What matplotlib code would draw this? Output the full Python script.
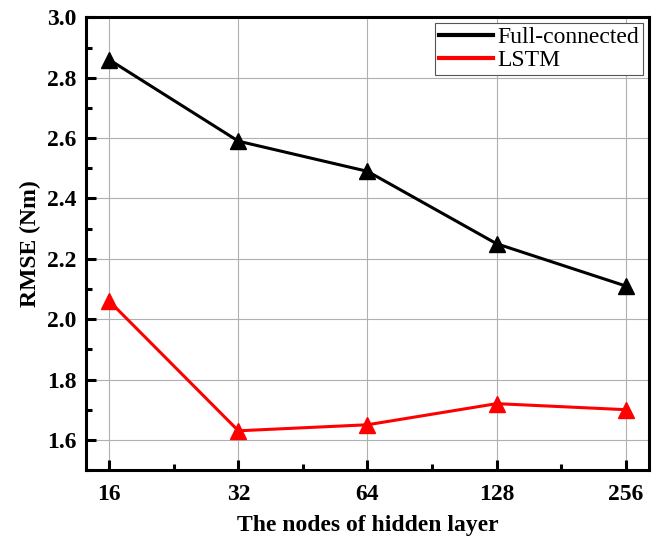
import numpy as np
import matplotlib
matplotlib.use("Agg")
import matplotlib.pyplot as plt
from matplotlib.ticker import MultipleLocator

plt.rcParams['font.family'] = ['Liberation Serif', 'DejaVu Serif']

nodes = ['16', '32', '64', '128', '256']
full_connected = [2.86, 2.59, 2.49, 2.25, 2.11]
lstm = [2.06, 1.63, 1.65, 1.72, 1.70]

x = np.arange(len(nodes))

fig = plt.figure(figsize=(6.59, 5.36), dpi=100)
ax = fig.add_axes([0.1305, 0.1231, 0.9848 - 0.1305, 0.9674 - 0.1231])

ax.plot(x, full_connected, '-^', color='black', lw=2.2, ms=11, label='Full-connected', zorder=3)
ax.plot(x, lstm, '-^', color='red', lw=2.2, ms=11, label='LSTM', zorder=3)

ax.set_xlim(-0.18, 4.18)
ax.set_ylim(1.5, 3.0)
ax.set_xticks(x)
ax.set_xticklabels(nodes)
ax.xaxis.set_minor_locator(MultipleLocator(0.5))
ax.yaxis.set_major_locator(MultipleLocator(0.2))
ax.yaxis.set_minor_locator(MultipleLocator(0.1))

ax.grid(True, which='major', color='#b0b0b0', lw=0.8)
ax.set_axisbelow(True)

for s in ax.spines.values():
    s.set_linewidth(2.2)
ax.tick_params(which='major', direction='in', length=7, width=2.2, labelsize=17, pad=7)
ax.tick_params(axis='x', which='major', pad=10)
ax.tick_params(which='minor', direction='in', length=4, width=2.2)
ax.tick_params(top=False, right=False, which='both')
for lbl in ax.get_xticklabels() + ax.get_yticklabels():
    lbl.set_fontweight('bold')

ax.set_xlabel('The nodes of hidden layer', fontsize=17, fontweight='bold', labelpad=7)
ax.set_ylabel('RMSE (Nm)', fontsize=17, fontweight='bold', labelpad=4)

leg = ax.legend(loc='upper right', fontsize=17, fancybox=False, framealpha=1,
                edgecolor='#555555', handlelength=2.3, handletextpad=0.2,
                borderpad=0.15, labelspacing=0.05, borderaxespad=0.25)
for h in leg.legend_handles:
    h.set_marker('')
    h.set_linewidth(3)
leg.get_frame().set_linewidth(0.8)

fig.savefig('out.png', dpi=100)
